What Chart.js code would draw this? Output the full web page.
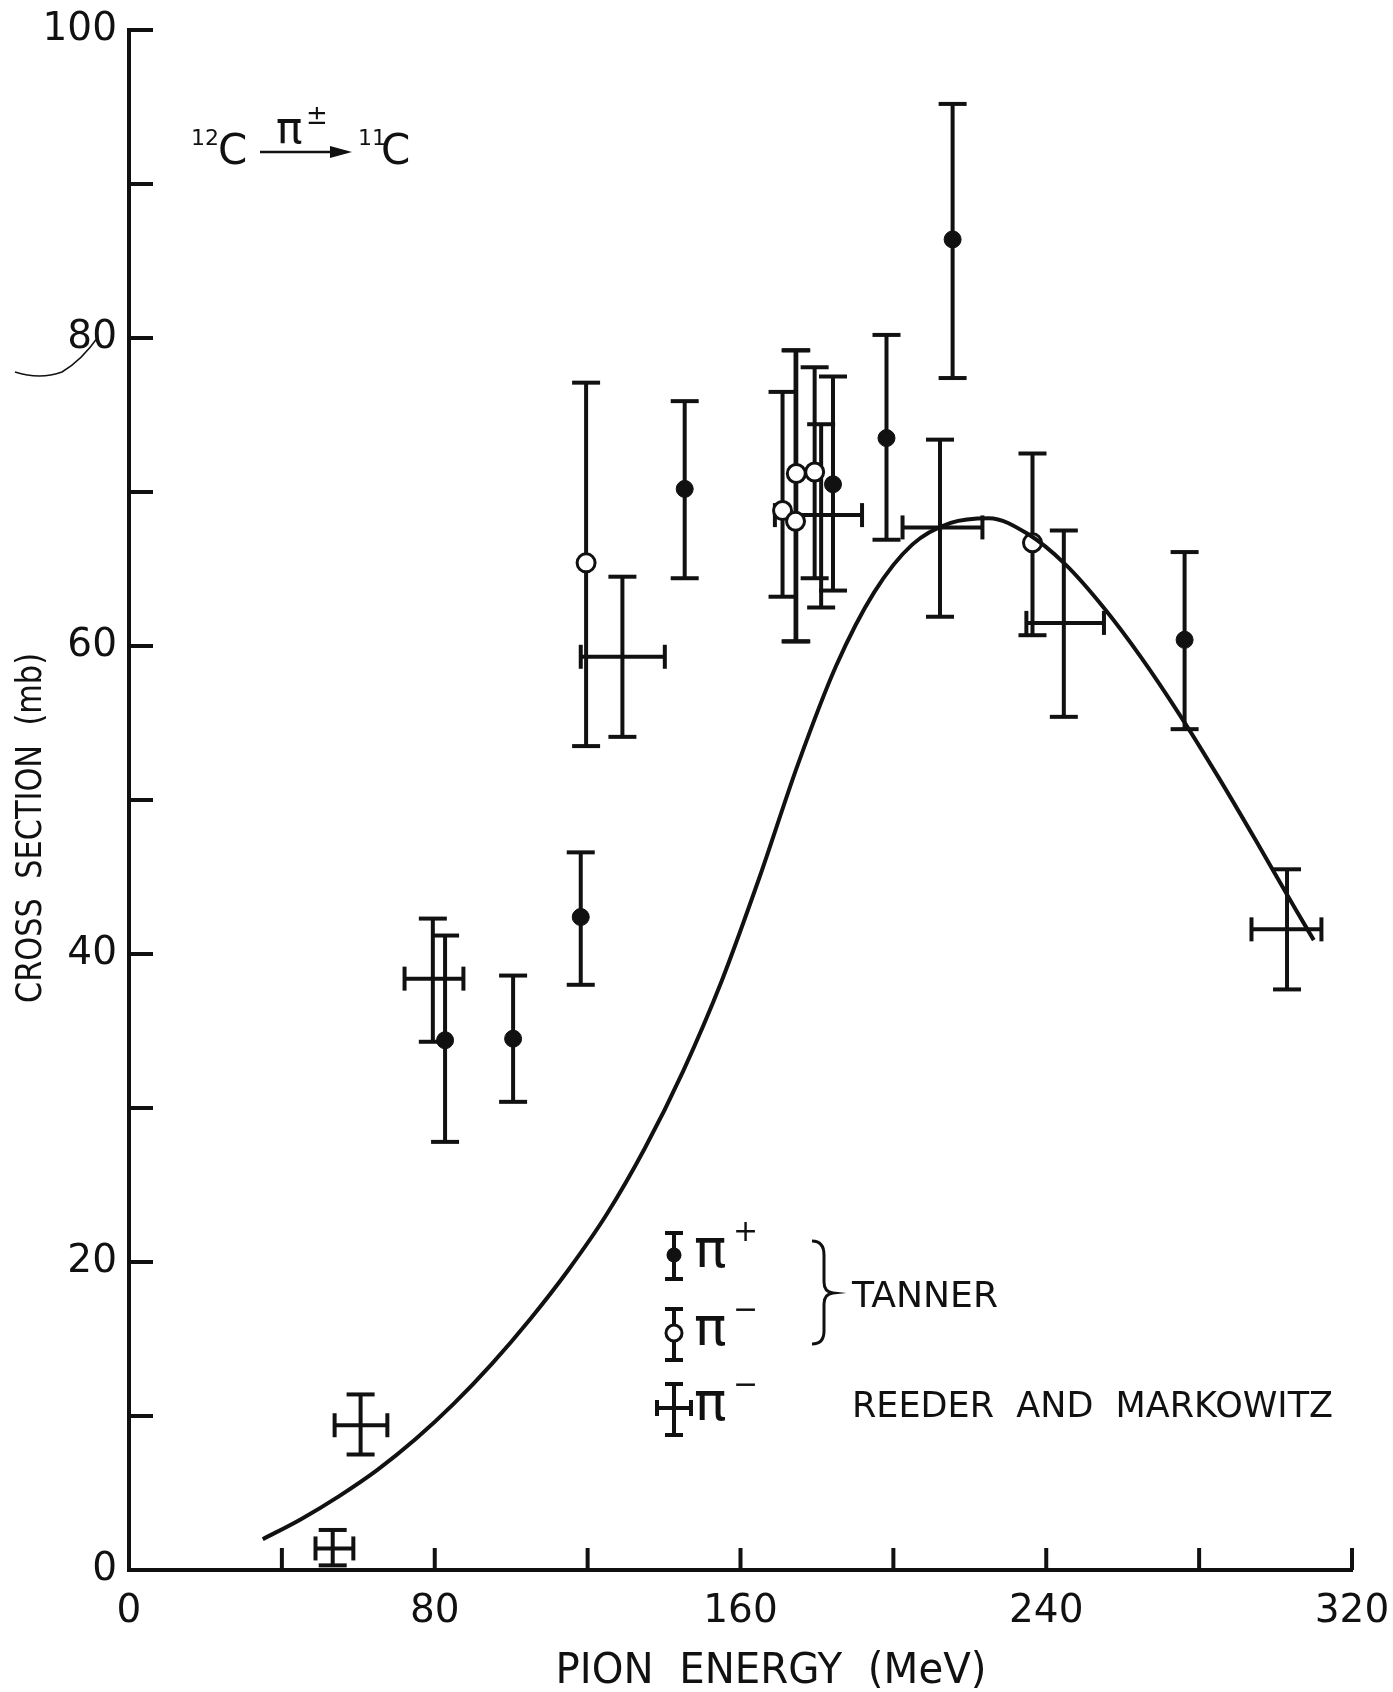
<!DOCTYPE html>
<html>
<head>
<meta charset="utf-8">
<script src="https://cdn.jsdelivr.net/npm/chart.js@4.4.1/dist/chart.umd.min.js"></script>
<style>
  html, body { margin: 0; padding: 0; background: #fff; }
  canvas { display: block; }
</style>
</head>
<body>
<canvas id="chart" width="1393" height="1692"></canvas>
<script>
// theory curve, pion energy (MeV) vs cross section (mb)
const curveE     = [35, 45, 55, 65, 75, 85, 95, 105, 115, 125, 135, 145, 155, 165, 175, 185, 195, 205, 215, 225, 235, 245, 255, 265, 275, 285, 295, 305, 310];
const curveSigma = [2.0, 3.3, 4.8, 6.5, 8.5, 10.8, 13.4, 16.3, 19.5, 23.1, 27.4, 32.4, 38.2, 45.0, 52.3, 58.7, 63.5, 66.6, 68.0, 68.3, 67.3, 65.3, 62.5, 59.2, 55.5, 51.5, 47.3, 43.0, 40.9];

// Tanner, pi+ (filled)
const plusE     = [82.7, 100.5, 118.2, 145.4, 184.2, 198.2, 215.5, 276.2];
const plusSigma = [34.4, 34.5, 42.4, 70.2, 70.5, 73.5, 86.4, 60.4];
const plusLo    = [27.8, 30.4, 38.0, 64.4, 63.6, 66.9, 77.4, 54.6];
const plusHi    = [41.2, 38.6, 46.6, 75.9, 77.5, 80.2, 95.2, 66.1];

// Tanner, pi- (open)
const minusE     = [119.6, 171.0, 174.6, 174.4, 179.4, 236.4];
const minusSigma = [65.4, 68.8, 71.2, 68.1, 71.3, 66.7];
const minusLo    = [53.5, 63.2, 60.3, 60.3, 64.4, 60.7];
const minusHi    = [77.1, 76.5, 79.2, 79.2, 78.1, 72.5];

// Reeder and Markowitz, pi-
const reederE      = [53.3, 60.6, 79.5, 129.1, 181.1, 212.2, 244.6, 303.0];
const reederSigma  = [1.4, 9.4, 38.4, 59.3, 68.5, 67.7, 61.5, 41.6];
const reederELo    = [48.8, 53.8, 72.1, 118.2, 169.0, 202.4, 234.8, 293.7];
const reederEHi    = [58.7, 67.6, 87.5, 140.2, 191.8, 223.3, 255.1, 312.0];
const reederSigLo  = [0.3, 7.5, 34.3, 54.1, 62.5, 61.9, 55.4, 37.7];
const reederSigHi  = [2.6, 11.4, 42.3, 64.5, 74.4, 73.4, 67.5, 45.5];

const xTicks = [0, 80, 160, 240, 320];
const yTicks = [0, 20, 40, 60, 80, 100];

const FONT = '"DejaVu Sans", sans-serif';
const INK = '#111';

const toPoints = (xs, ys) => xs.map((v, i) => ({ x: v, y: ys[i] }));

// draw text squeezed/stretched to a target width
function fitText(ctx, text, x, y, width, size, align) {
  ctx.save();
  ctx.font = size + 'px ' + FONT;
  const w = ctx.measureText(text).width;
  const k = width / w;
  let left = x;
  if (align === 'center') left = x - width / 2;
  ctx.translate(left, y);
  ctx.scale(k, 1);
  ctx.textAlign = 'left';
  ctx.textBaseline = 'middle';
  ctx.fillText(text, 0, 0);
  ctx.restore();
}

const errorBars = {
  id: 'errorBars',
  beforeDatasetsDraw(chart) {
    const { ctx, scales: { x, y } } = chart;
    ctx.save();
    ctx.strokeStyle = INK;
    ctx.lineWidth = 4;
    const seg = (a, b, c, d) => { ctx.beginPath(); ctx.moveTo(a, b); ctx.lineTo(c, d); ctx.stroke(); };
    chart.data.datasets.forEach(ds => {
      if (!ds.errors) return;
      ds.data.forEach((p, i) => {
        const e = ds.errors[i];
        const px = x.getPixelForValue(p.x), py = y.getPixelForValue(p.y);
        const top = y.getPixelForValue(e.hi), bot = y.getPixelForValue(e.lo);
        seg(px, top, px, bot);
        seg(px - 14, top, px + 14, top);
        seg(px - 14, bot, px + 14, bot);
        if (e.xlo != null) {
          const l = x.getPixelForValue(e.xlo), r = x.getPixelForValue(e.xhi);
          seg(l, py, r, py);
          seg(l, py - 12, l, py + 12);
          seg(r, py - 12, r, py + 12);
        }
      });
    });
    ctx.restore();
  }
};

const decorations = {
  id: 'decorations',
  afterDraw(chart) {
    const { ctx, scales: { x, y } } = chart;
    ctx.save();
    ctx.strokeStyle = INK;
    ctx.fillStyle = INK;
    ctx.lineWidth = 4;
    const seg = (a, b, c, d) => { ctx.beginPath(); ctx.moveTo(a, b); ctx.lineTo(c, d); ctx.stroke(); };

    // inward tick marks
    const x0 = x.getPixelForValue(0), y0 = y.getPixelForValue(0);
    for (let v = 10; v <= 100; v += 10) {
      const py = y.getPixelForValue(v);
      seg(x0, py, x0 + 24, py);
    }
    for (let v = 40; v <= 320; v += 40) {
      const px = x.getPixelForValue(v);
      seg(px, y0, px, y0 - 22);
    }

    // axis titles
    fitText(ctx, 'PION  ENERGY  (MeV)', 771, 1672, 431, 42, 'center');
    ctx.save();
    ctx.translate(32, 828);
    ctx.rotate(-Math.PI / 2);
    fitText(ctx, 'CROSS  SECTION  (mb)', 0, 0, 350, 36, 'center');
    ctx.restore();

    // reaction label
    ctx.textBaseline = 'middle';
    ctx.textAlign = 'left';
    ctx.font = '22px ' + FONT;
    ctx.fillText('12', 191, 139);
    ctx.font = '42px ' + FONT;
    ctx.fillText('C', 218, 153);
    ctx.lineWidth = 2.5;
    seg(260, 152, 340, 152);
    ctx.beginPath();
    ctx.moveTo(352, 152); ctx.lineTo(330, 146); ctx.lineTo(330, 158); ctx.closePath(); ctx.fill();
    ctx.font = '44px ' + FONT;
    ctx.fillText('π', 276, 132);
    ctx.font = '26px ' + FONT;
    ctx.fillText('±', 306, 117);
    ctx.font = '22px ' + FONT;
    ctx.fillText('11', 358, 139);
    ctx.font = '42px ' + FONT;
    ctx.fillText('C', 381, 153);

    // stray mark by the 80 label
    ctx.lineWidth = 1.5;
    ctx.beginPath();
    ctx.moveTo(15, 372);
    ctx.quadraticCurveTo(40, 380, 62, 372);
    ctx.quadraticCurveTo(82, 360, 98, 337);
    ctx.stroke();

    // legend
    ctx.lineWidth = 4;
    const lx = 674;
    const rows = [1255, 1333, 1408];
    // pi+ symbol
    seg(lx, rows[0] - 22, lx, rows[0] + 24);
    seg(lx - 9, rows[0] - 22, lx + 9, rows[0] - 22);
    seg(lx - 9, rows[0] + 24, lx + 9, rows[0] + 24);
    ctx.beginPath(); ctx.arc(lx, rows[0], 7.5, 0, Math.PI * 2); ctx.fill();
    // pi- symbol
    seg(lx, rows[1] - 24, lx, rows[1] + 27);
    seg(lx - 9, rows[1] - 24, lx + 9, rows[1] - 24);
    seg(lx - 9, rows[1] + 27, lx + 9, rows[1] + 27);
    ctx.beginPath(); ctx.arc(lx, rows[1], 8, 0, Math.PI * 2);
    ctx.fillStyle = '#fff'; ctx.fill(); ctx.lineWidth = 3; ctx.stroke();
    ctx.fillStyle = INK; ctx.lineWidth = 4;
    // reeder cross
    seg(lx, rows[2] - 24, lx, rows[2] + 27);
    seg(lx - 9, rows[2] - 24, lx + 9, rows[2] - 24);
    seg(lx - 9, rows[2] + 27, lx + 9, rows[2] + 27);
    seg(lx - 17, rows[2], lx + 17, rows[2]);
    seg(lx - 17, rows[2] - 8, lx - 17, rows[2] + 8);
    seg(lx + 17, rows[2] - 8, lx + 17, rows[2] + 8);

    ctx.font = '54px ' + FONT;
    ctx.fillText('π', 694, rows[0] - 2);
    ctx.fillText('π', 694, rows[1] - 2);
    ctx.fillText('π', 694, rows[2] - 2);
    ctx.font = '30px ' + FONT;
    ctx.fillText('+', 733, rows[0] - 22);
    ctx.fillText('−', 733, rows[1] - 22);
    ctx.fillText('−', 733, rows[2] - 22);

    // brace
    ctx.lineWidth = 3;
    ctx.beginPath();
    ctx.moveTo(812, 1241);
    ctx.quadraticCurveTo(824, 1241, 824, 1255);
    ctx.lineTo(824, 1282);
    ctx.quadraticCurveTo(824, 1292, 833, 1293);
    ctx.quadraticCurveTo(824, 1294, 824, 1304);
    ctx.lineTo(824, 1331);
    ctx.quadraticCurveTo(824, 1344, 812, 1344);
    ctx.stroke();

    fitText(ctx, 'TANNER', 852, 1298, 146, 36, 'left');
    fitText(ctx, 'REEDER  AND  MARKOWITZ', 852, 1408, 481, 36, 'left');
    ctx.restore();
  }
};

new Chart(document.getElementById('chart'), {
  type: 'scatter',
  data: {
    datasets: [
      {
        type: 'line',
        label: 'theory',
        data: toPoints(curveE, curveSigma),
        borderColor: INK,
        borderWidth: 4,
        pointRadius: 0,
        fill: false,
        cubicInterpolationMode: 'monotone'
      },
      {
        label: 'π+ Tanner',
        data: toPoints(plusE, plusSigma),
        errors: plusE.map((_, i) => ({ lo: plusLo[i], hi: plusHi[i] })),
        pointRadius: 8.5,
        pointBackgroundColor: INK,
        pointBorderColor: INK,
        pointBorderWidth: 1
      },
      {
        label: 'π- Tanner',
        data: toPoints(minusE, minusSigma),
        errors: minusE.map((_, i) => ({ lo: minusLo[i], hi: minusHi[i] })),
        pointRadius: 9,
        pointBackgroundColor: '#fff',
        pointBorderColor: INK,
        pointBorderWidth: 3
      },
      {
        label: 'π- Reeder and Markowitz',
        data: toPoints(reederE, reederSigma),
        errors: reederE.map((_, i) => ({
          lo: reederSigLo[i], hi: reederSigHi[i], xlo: reederELo[i], xhi: reederEHi[i]
        })),
        pointRadius: 0
      }
    ]
  },
  options: {
    responsive: false,
    animation: false,
    layout: { padding: { left: 0, right: 41, top: 30, bottom: 0 } },
    plugins: { legend: { display: false }, tooltip: { enabled: false } },
    scales: {
      x: {
        type: 'linear',
        min: 0,
        max: 320,
        afterBuildTicks: s => { s.ticks = xTicks.map(v => ({ value: v })); },
        afterFit: s => { s.height = 122; s.paddingLeft = 0; s.paddingRight = 0; },
        ticks: {
          color: INK,
          font: { family: FONT, size: 39 },
          padding: 18,
          maxRotation: 0,
          autoSkip: false
        },
        grid: { display: false, drawTicks: false },
        border: { display: true, color: INK, width: 4 }
      },
      y: {
        type: 'linear',
        min: 0,
        max: 100,
        afterBuildTicks: s => { s.ticks = yTicks.map(v => ({ value: v })); },
        afterFit: s => { s.width = 129; s.paddingTop = 0; s.paddingBottom = 0; },
        ticks: {
          color: INK,
          font: { family: FONT, size: 39 },
          padding: 12,
          autoSkip: false
        },
        grid: { display: false, drawTicks: false },
        border: { display: true, color: INK, width: 4 }
      }
    }
  },
  plugins: [errorBars, decorations]
});
</script>
</body>
</html>
